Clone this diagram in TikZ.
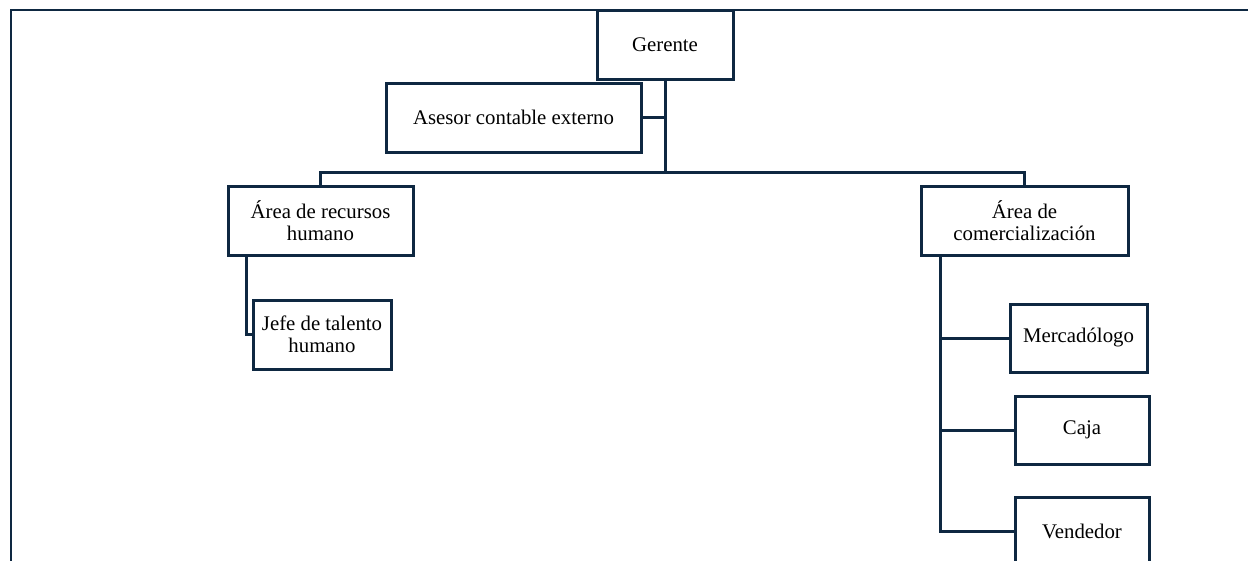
\documentclass[tikz,border=0pt]{standalone}
\usepackage{fontspec}
\setmainfont{Liberation Serif}
\definecolor{navy}{HTML}{0E2841}
\begin{document}
\begin{tikzpicture}[x=1pt,y=-1pt,
  box/.style={draw=navy,line width=3pt,fill=white,align=center,inner sep=2pt,
    font=\fontsize{20.8}{22}\selectfont},
  conn/.style={draw=navy,line width=3pt},
  frame/.style={draw=navy,line width=2.2pt}]
\useasboundingbox (0,0) rectangle (1248,560);
\clip (0,0) rectangle (1248,560);
\draw[frame] (1260,10) -- (11,10) -- (11,580);
\node[box,minimum width=136pt,minimum height=69pt] (ger) at (665,44.5) {Gerente};
\node[box,minimum width=255pt,minimum height=69pt] (ase) at (513.5,117.5) {Asesor contable externo};
\node[box,minimum width=185pt,minimum height=69pt] (rrhh) at (320.5,220.5) {Área de recursos\\humano};
\node[box,minimum width=138pt,minimum height=69pt] (jefe) at (322,334.5) {Jefe de talento\\humano};
\node[box,minimum width=207pt,minimum height=69pt] (com) at (1024.5,220.5) {Área de\\comercialización};
\node[box,minimum width=137pt,minimum height=68pt] (merc) at (1078.5,338) {Mercadólogo};
\node[box,minimum width=134pt,minimum height=68pt] (caja) at (1082,430) {Caja};
\node[box,minimum width=134pt,minimum height=68pt] (vend) at (1082,531) {Vendedor};
\coordinate (bus) at (ger.south |- 0,172);
\draw[conn] (ger.south) -- (bus);
\draw[conn] (ase.east) -- (ase.east -| ger.south);
\draw[conn] (rrhh.north) |- (bus) -| (com.north);
\draw[conn] ([xshift=20pt]rrhh.south west) |- (jefe.west);
\draw[conn] ([xshift=21pt]com.south west) |- (merc.west);
\draw[conn] ([xshift=21pt]com.south west) |- (caja.west);
\draw[conn] ([xshift=21pt]com.south west) |- (vend.west);
\end{tikzpicture}
\end{document}
